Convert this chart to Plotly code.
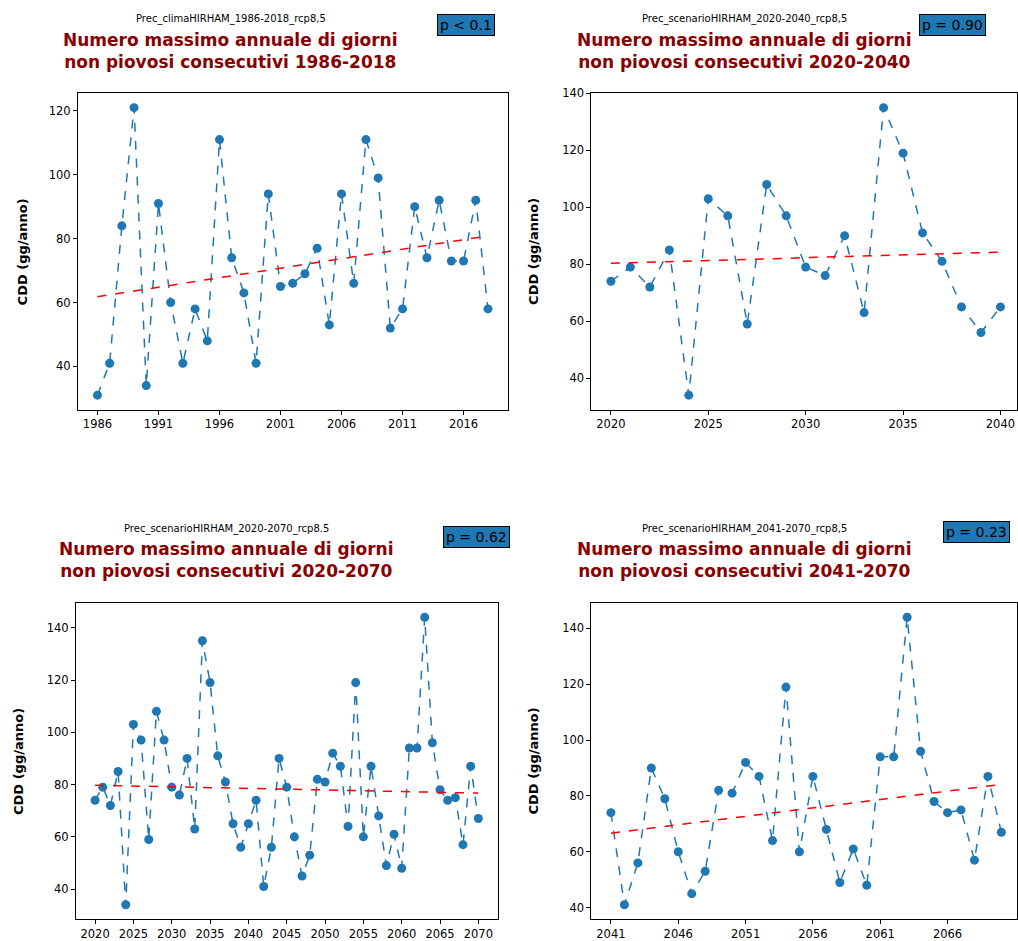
import numpy as np
import plotly.graph_objects as go

# Annual maximum number of consecutive dry days (CDD, days/year)
years_clima = list(range(1986, 2019))
cdd_clima = [31, 41, 84, 121, 34, 91, 60, 41, 58, 48, 111, 74, 63, 41, 94, 65, 66,
             69, 77, 53, 94, 66, 111, 99, 52, 58, 90, 74, 92, 73, 73, 92, 58]

years_2020_2040 = list(range(2020, 2041))
cdd_2020_2040 = [74, 79, 72, 85, 34, 103, 97, 59, 108, 97, 79, 76, 90, 63, 135, 119,
                 91, 81, 65, 56, 65]

years_2041_2070 = list(range(2041, 2071))
cdd_2041_2070 = [74, 41, 56, 90, 79, 60, 45, 53, 82, 81, 92, 87, 64, 119, 60, 87, 68,
                 49, 61, 48, 94, 94, 144, 96, 78, 74, 75, 57, 87, 67]

years_2020_2070 = years_2020_2040 + years_2041_2070
cdd_2020_2070 = cdd_2020_2040 + cdd_2041_2070

subtitles = ["Prec_climaHIRHAM_1986-2018_rcp8,5",
             "Prec_scenarioHIRHAM_2020-2040_rcp8,5",
             "Prec_scenarioHIRHAM_2020-2070_rcp8.5",
             "Prec_scenarioHIRHAM_2041-2070_rcp8,5"]
periods = ["1986-2018", "2020-2040", "2020-2070", "2041-2070"]
p_labels = ["p < 0.1", "p = 0.90", "p = 0.62", "p = 0.23"]

W, H = 1018, 941
FONT = "DejaVu Sans"
BLUE = "#1f77b4"


def px(x):
    return x / W


def py(y):
    return 1 - y / H


panels = [
    dict(x=years_clima, y=cdd_clima, dom=(78, 508, 87, 406), xr=[1984.4, 2019.6],
         yr=[26.5, 125.5], xt=list(range(1986, 2019, 5)), yt=list(range(40, 121, 20)),
         sub=(231, 12), title=(231, 44), pbox=(466, 18.5), ylab=22),
    dict(x=years_2020_2040, y=cdd_2020_2040, dom=(592, 1018, 87, 406), xr=[2019, 2040.85],
         yr=[28.95, 140.05], xt=list(range(2020, 2041, 5)), yt=list(range(40, 141, 20)),
         sub=(745, 12), title=(745, 44), pbox=(953, 18.5), ylab=534),
    dict(x=years_2020_2070, y=cdd_2020_2070, dom=(76, 498, 601, 920), xr=[2017.5, 2072.5],
         yr=[28.5, 149.5], xt=list(range(2020, 2071, 5)), yt=list(range(40, 141, 20)),
         sub=(227, 526), title=(227, 558), pbox=(477, 534.5), ylab=18),
    dict(x=years_2041_2070, y=cdd_2041_2070, dom=(592, 1018, 601, 920), xr=[2039.55, 2071.16],
         yr=[35.85, 149.15], xt=list(range(2041, 2067, 5)), yt=list(range(40, 141, 20)),
         sub=(745, 526), title=(745, 558), pbox=(977, 529.5), ylab=534),
]

fig = go.Figure()
annotations = []
layout_axes = {}

for i, p in enumerate(panels, start=1):
    xa = "x" if i == 1 else f"x{i}"
    ya = "y" if i == 1 else f"y{i}"
    x = np.array(p["x"], dtype=float)
    y = np.array(p["y"], dtype=float)

    # annual series
    fig.add_trace(go.Scatter(
        x=x, y=y, mode="lines+markers", xaxis=xa, yaxis=ya, showlegend=False,
        line=dict(color=BLUE, width=1.5, dash="dash"),
        marker=dict(color=BLUE, size=9)))

    # linear trend
    slope, intercept = np.polyfit(x, y, 1)
    fig.add_trace(go.Scatter(
        x=x, y=slope * x + intercept, mode="lines", xaxis=xa, yaxis=ya,
        showlegend=False, line=dict(color="red", width=1.5, dash="dash")))

    x0, x1, y0, y1 = p["dom"]
    common = dict(showgrid=False, zeroline=False, showline=True, linecolor="black",
                  linewidth=1, mirror=True, ticks="outside", ticklen=4,
                  tickcolor="black", tickfont=dict(family=FONT, size=11.5, color="black"))
    layout_axes["xaxis" if i == 1 else f"xaxis{i}"] = dict(
        domain=[px(x0), px(x1)], range=p["xr"], tickvals=p["xt"],
        anchor=ya, **common)
    layout_axes["yaxis" if i == 1 else f"yaxis{i}"] = dict(
        domain=[py(y1), py(y0)], range=p["yr"], tickvals=p["yt"],
        anchor=xa, **common)

    sx, sy = p["sub"]
    annotations.append(dict(
        text=subtitles[i - 1], x=px(sx), y=py(sy), xref="paper", yref="paper",
        showarrow=False, xanchor="center", yanchor="middle",
        font=dict(family=FONT, size=10, color="black")))

    tx, ty = p["title"]
    annotations.append(dict(
        text=f"<b>Numero massimo annuale di giorni<br>non piovosi consecutivi {periods[i - 1]}</b>",
        x=px(tx), y=py(ty), xref="paper", yref="paper", showarrow=False,
        xanchor="center", yanchor="middle", align="center",
        font=dict(family=FONT, size=17, color="#8b0000")))

    bx, by = p["pbox"]
    annotations.append(dict(
        text=p_labels[i - 1], x=px(bx), y=py(by), xref="paper", yref="paper",
        showarrow=False, xanchor="center", yanchor="middle",
        bgcolor=BLUE, bordercolor="black", borderwidth=1, borderpad=2,
        font=dict(family=FONT, size=14, color="black")))

    annotations.append(dict(
        text="<b>CDD (gg/anno)</b>", x=px(p["ylab"]), y=py((y0 + y1) / 2),
        xref="paper", yref="paper", showarrow=False, textangle=-90,
        xanchor="center", yanchor="middle",
        font=dict(family=FONT, size=13, color="black")))

fig.update_layout(
    width=W, height=H, margin=dict(l=0, r=0, t=0, b=0),
    paper_bgcolor="white", plot_bgcolor="white",
    annotations=annotations, **layout_axes)

fig.write_html("out.html")
